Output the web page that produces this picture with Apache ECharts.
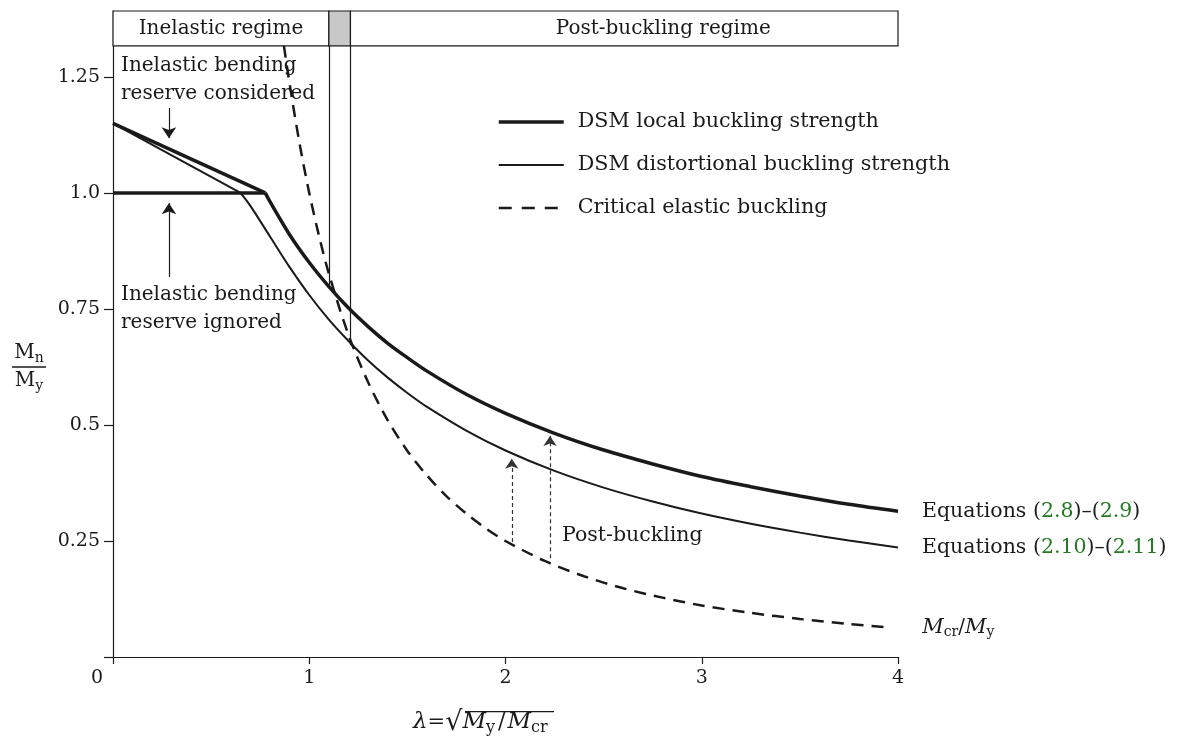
<!DOCTYPE html>
<html>
<head>
<meta charset="utf-8">
<title>DSM strength curves</title>
<script src="https://cdn.jsdelivr.net/npm/echarts@6/dist/echarts.min.js"></script>
<style>
  html, body { margin: 0; padding: 0; background: #fff; }
  #chart { width: 1180px; height: 742px; }
</style>
</head>
<body>
<div id="chart"></div>
<script>
// values: slenderness lambda vs. Mn/My
const yTicks = [0, 0.25, 0.5, 0.75, 1.0, 1.25];
const yLabels = [0.25, 0.5, 0.75, 1.0, 1.25];

// straight inelastic parts (reserve considered / ignored)
const localReserveLambda = [0, 0.776];
const localReserveMn = [1.15, 1.0];
const plateauLambda = [0, 0.776];
const plateauMn = [1.0, 1.0];
const distReserveLambda = [0, 0.65];
const distReserveMn = [1.15, 1.0];

// curved parts
const localLambda = [0.776, 0.8, 0.9, 1.0, 1.1, 1.2, 1.3, 1.4, 1.5, 1.6, 1.8, 2.0, 2.25, 2.5, 2.75, 3.0, 3.25, 3.5, 3.75, 4.0];
const localMn = [1.0, 0.981, 0.910, 0.850, 0.798, 0.752, 0.712, 0.676, 0.645, 0.616, 0.566, 0.525, 0.482, 0.446, 0.416, 0.389, 0.367, 0.347, 0.329, 0.314];
const distLambda = [0.65, 0.7, 0.8, 0.9, 1.0, 1.1, 1.2, 1.3, 1.4, 1.5, 1.6, 1.8, 2.0, 2.25, 2.5, 2.75, 3.0, 3.25, 3.5, 3.75, 4.0];
const distMn = [1.0, 0.972, 0.906, 0.840, 0.780, 0.727, 0.681, 0.639, 0.602, 0.569, 0.539, 0.488, 0.445, 0.401, 0.365, 0.335, 0.309, 0.287, 0.268, 0.251, 0.236];
const elasticLambda = [0.871, 0.9, 0.95, 1.0, 1.05, 1.1, 1.2, 1.3, 1.4, 1.5, 1.6, 1.7, 1.8, 1.9, 2.0, 2.2, 2.4, 2.6, 2.8, 3.0, 3.25, 3.5, 3.75, 3.95];
const elasticMcr = [1.317, 1.235, 1.108, 1.0, 0.907, 0.826, 0.694, 0.592, 0.510, 0.444, 0.391, 0.346, 0.309, 0.277, 0.25, 0.207, 0.174, 0.148, 0.128, 0.111, 0.095, 0.082, 0.071, 0.064];

// regime limits along lambda, and the band at the top
const regimeLimits = [1.1, 1.21];
const bandBottom = 1.317;
const yTop = 1.392;

const zip = (xs, ys) => xs.map((x, i) => [x, ys[i]]);

const ink = '#1a1a1a';
const serif = '"DejaVu Serif", serif';
const green = '#237a23';
const noDot = { color: 'rgba(0,0,0,0)' };

const LOCAL = 'DSM local buckling strength';
const DIST = 'DSM distortional buckling strength';
const ELASTIC = 'Critical elastic buckling';

const chart = echarts.init(document.getElementById('chart'));

const option = {
  animation: false,
  backgroundColor: '#fff',
  textStyle: { fontFamily: serif, color: ink },
  grid: { left: 113, right: 282, top: 11, bottom: 85, outerBoundsMode: 'none' },
  legend: {
    orient: 'vertical',
    left: 497,
    top: 110,
    padding: 0,
    itemWidth: 65,
    itemHeight: 14,
    itemGap: 19,
    selectedMode: false,
    textStyle: { fontFamily: serif, fontSize: 20.7, color: ink, lineHeight: 24, padding: [0, 0, 0, 9] },
    data: [
      { name: LOCAL, lineStyle: { width: 3.5 } },
      { name: DIST, lineStyle: { width: 2 } },
      { name: ELASTIC, lineStyle: { width: 2.5, type: [13, 10] } }
    ]
  },
  xAxis: {
    type: 'value',
    min: 0,
    max: 4,
    interval: 1,
    splitLine: { show: false },
    axisLine: { show: true, lineStyle: { color: ink, width: 1.2 } },
    axisTick: { show: true, length: 7, lineStyle: { color: ink, width: 1.2 } },
    axisLabel: {
      margin: 12,
      fontFamily: serif,
      fontSize: 19,
      color: ink,
      formatter: v => (v === 0 ? '{z|0}' : String(v)),
      rich: { z: { fontFamily: serif, fontSize: 19, color: ink, padding: [0, 32, 0, 0] } }
    }
  },
  yAxis: {
    type: 'value',
    min: 0,
    max: yTop,
    interval: 0.25,
    splitLine: { show: false },
    axisLine: { show: true, lineStyle: { color: ink, width: 1.2 } },
    axisTick: { show: true, length: 9, customValues: yTicks, lineStyle: { color: ink, width: 1.2 } },
    axisLabel: {
      margin: 13,
      fontFamily: serif,
      fontSize: 19,
      color: ink,
      customValues: yLabels,
      formatter: v => (v === 1 ? '1.0' : String(v))
    },
    name: '{m|M}{s|n}\n{bar| }\n{m|M}{s|y}',
    nameLocation: 'middle',
    nameRotate: 0,
    nameGap: 84,
    nameTextStyle: {
      align: 'center',
      padding: [66, 0, 0, 0],
      rich: {
        m: { fontFamily: serif, fontSize: 20, color: ink, lineHeight: 24 },
        s: { fontFamily: serif, fontSize: 14, color: ink, padding: [10, 0, 0, 0] },
        bar: { width: 34, height: 1.5, lineHeight: 4, backgroundColor: ink }
      }
    }
  },
  series: [
    {
      name: LOCAL,
      type: 'line',
      symbol: 'none',
      itemStyle: noDot,
      data: zip(localReserveLambda, localReserveMn),
      lineStyle: { color: ink, width: 3.5 },
      markLine: {
        silent: true,
        symbol: ['none', 'arrow'],
        symbolSize: 11,
        label: { show: false },
        lineStyle: { color: ink, width: 1.2, type: 'solid' },
        data: [
          [{ coord: [0.285, 1.183] }, { coord: [0.285, 1.118] }],
          [{ coord: [0.285, 0.819] }, { coord: [0.285, 0.978] }]
        ]
      }
    },
    {
      name: LOCAL,
      type: 'line',
      symbol: 'none',
      itemStyle: noDot,
      data: zip(plateauLambda, plateauMn),
      lineStyle: { color: ink, width: 3.5 }
    },
    {
      name: LOCAL,
      type: 'line',
      symbol: 'none',
      smooth: 0.3,
      itemStyle: noDot,
      data: zip(localLambda, localMn),
      lineStyle: { color: ink, width: 3.5 },
      endLabel: {
        show: true,
        distance: 24,
        fontFamily: serif,
        fontSize: 20.5,
        color: ink,
        formatter: 'Equations ({g|2.8})–({g|2.9})',
        rich: { g: { fontFamily: serif, fontSize: 20.5, color: green } }
      }
    },
    {
      name: DIST,
      type: 'line',
      symbol: 'none',
      itemStyle: noDot,
      data: zip(distReserveLambda, distReserveMn),
      lineStyle: { color: ink, width: 2 }
    },
    {
      name: DIST,
      type: 'line',
      symbol: 'none',
      smooth: 0.3,
      itemStyle: noDot,
      data: zip(distLambda, distMn),
      lineStyle: { color: ink, width: 2 },
      endLabel: {
        show: true,
        distance: 24,
        fontFamily: serif,
        fontSize: 20.5,
        color: ink,
        formatter: 'Equations ({g|2.10})–({g|2.11})',
        rich: { g: { fontFamily: serif, fontSize: 20.5, color: green } }
      },
      markLine: {
        silent: true,
        symbol: ['none', 'arrow'],
        symbolSize: 10,
        label: { show: false },
        lineStyle: { color: '#333', width: 1.2, type: [4, 3] },
        data: [
          [{ coord: [2.032, 0.248] }, { coord: [2.032, 0.427] }],
          [{ coord: [2.227, 0.213] }, { coord: [2.227, 0.476] }]
        ]
      }
    },
    {
      name: ELASTIC,
      type: 'line',
      symbol: 'none',
      smooth: 0.3,
      itemStyle: noDot,
      data: zip(elasticLambda, elasticMcr),
      lineStyle: { color: ink, width: 2.5, type: [12, 8] },
      endLabel: {
        show: true,
        distance: 34,
        fontFamily: serif,
        fontSize: 20,
        color: ink,
        formatter: '{i|M}{s|cr}/{i|M}{s|y}',
        rich: {
          i: { fontFamily: serif, fontSize: 21, fontStyle: 'italic', color: ink },
          s: { fontFamily: serif, fontSize: 14, color: ink, padding: [10, 0, 0, 0] }
        }
      },
      markLine: {
        silent: true,
        symbol: ['none', 'none'],
        label: { show: false },
        lineStyle: { color: ink, width: 1.2, type: 'solid' },
        data: [
          [{ coord: [regimeLimits[0], bandBottom] }, { coord: [regimeLimits[0], 0.798] }],
          [{ coord: [regimeLimits[1], bandBottom] }, { coord: [regimeLimits[1], 0.672] }]
        ]
      },
      markArea: {
        silent: true,
        itemStyle: { color: '#fff', borderColor: ink, borderWidth: 1.2 },
        label: { position: 'inside', fontFamily: serif, fontSize: 20, color: ink },
        data: [
          [{ name: 'Inelastic regime', coord: [0, bandBottom] }, { coord: [regimeLimits[0], yTop] }],
          [{ name: '', coord: [regimeLimits[0], bandBottom], itemStyle: { color: '#c8c8c8' } }, { coord: [regimeLimits[1], yTop] }],
          [{ name: 'Post-buckling regime', coord: [regimeLimits[1], bandBottom], label: { offset: [39, 0] } }, { coord: [4, yTop] }]
        ]
      }
    }
  ],
  graphic: [
    {
      type: 'text', left: 121, top: 52,
      style: { text: 'Inelastic bending\nreserve considered', fontFamily: serif, fontSize: 20, lineHeight: 28, fill: ink }
    },
    {
      type: 'text', left: 121, top: 281,
      style: { text: 'Inelastic bending\nreserve ignored', fontFamily: serif, fontSize: 20, lineHeight: 28, fill: ink }
    },
    {
      type: 'text', left: 562, top: 522,
      style: { text: 'Post-buckling', fontFamily: serif, fontSize: 20.5, lineHeight: 28, fill: ink }
    },
    {
      type: 'text', left: 413, top: 709,
      style: {
        text: '{i|λ}{t|=}{r|√}{i|M}{s|y}{d|/}{i|M}{s|cr}',
        rich: {
          i: { fontFamily: serif, fontSize: 23, fontStyle: 'italic', fill: ink },
          t: { fontFamily: serif, fontSize: 21, fill: ink },
          d: { fontFamily: serif, fontSize: 22, fill: ink, padding: [0, 2, 0, 2] },
          r: { fontFamily: serif, fontSize: 27, fill: ink },
          s: { fontFamily: serif, fontSize: 16, fill: ink, padding: [11, 1, 0, 0] }
        }
      }
    },
    {
      type: 'rect', left: 465, top: 711,
      shape: { width: 89, height: 1.3 },
      style: { fill: ink }
    }
  ]
};

chart.setOption(option);
</script>
</body>
</html>
